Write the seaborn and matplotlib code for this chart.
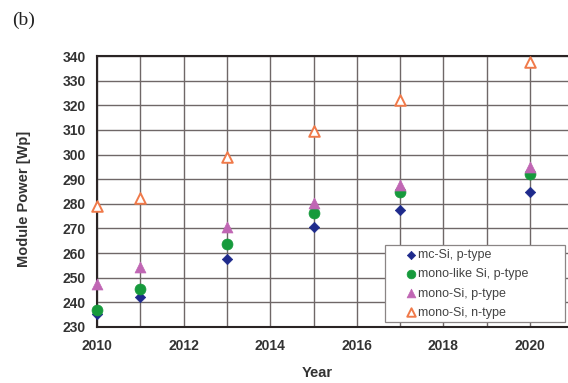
import numpy as np
import pandas as pd
import matplotlib
matplotlib.use("Agg")
import matplotlib.pyplot as plt
from matplotlib.ticker import MultipleLocator
from matplotlib.patches import Rectangle
import seaborn as sns

# Module power roadmap by cell technology
years = [2010, 2011, 2013, 2015, 2017, 2020]
mc_si_p = [235.3, 242, 257.5, 270.4, 277.6, 285]
mono_like_p = [237, 245.5, 263.5, 276.3, 284.7, 292]
mono_si_p = [247.5, 254.5, 270.5, 280.5, 287.5, 294.8]
mono_si_n = [279, 282.5, 299, 309.5, 322, 337.6]

series_names = ["mc-Si, p-type", "mono-like Si, p-type", "mono-Si, p-type", "mono-Si, n-type"]
series_values = [mc_si_p, mono_like_p, mono_si_p, mono_si_n]

df = pd.DataFrame({
    "Year": np.tile(years, len(series_names)),
    "Power": np.concatenate(series_values),
    "Series": np.repeat(series_names, len(years)),
})

sns.set_theme(style="white")
plt.rcParams["font.family"] = ["Liberation Sans", "DejaVu Sans"]

W, H = 568, 383
fig = plt.figure(figsize=(W / 100, H / 100), dpi=100)
ax_left, ax_right, ax_top, ax_bottom = 97, 568, 56, 327
ax = fig.add_axes([ax_left / W, 1 - ax_bottom / H, (ax_right - ax_left) / W, (ax_bottom - ax_top) / H])

styles = {
    "mc-Si, p-type": dict(marker="D", s=28, color="#1e2a8c", edgecolor="#1e2a8c", linewidth=0.5),
    "mono-like Si, p-type": dict(marker="o", s=62, color="#169a3c", edgecolor="#169a3c", linewidth=0.5),
    "mono-Si, p-type": dict(marker="^", s=62, color="#c066b4", edgecolor="#c066b4", linewidth=0.5),
    "mono-Si, n-type": dict(marker="^", s=58, facecolor="white", edgecolor="#f07a4a", linewidth=1.4),
}
for name in series_names:
    sub = df[df["Series"] == name]
    sns.scatterplot(data=sub, x="Year", y="Power", ax=ax, label=name, zorder=5,
                    clip_on=False, **styles[name])

ax.set_xlim(2010, 2010 + (ax_right - ax_left) / 43.3)
ax.set_ylim(230, 340)
ax.xaxis.set_major_locator(MultipleLocator(2))
ax.xaxis.set_minor_locator(MultipleLocator(1))
ax.yaxis.set_major_locator(MultipleLocator(10))

grid_col = "#6f6767"
ax.grid(True, which="major", axis="y", color=grid_col, lw=1.0)
ax.grid(True, which="both", axis="x", color=grid_col, lw=1.0)
ax.set_axisbelow(True)

for side in ["left", "bottom", "top"]:
    ax.spines[side].set_color("#2a2424")
    ax.spines[side].set_linewidth(1.5)
ax.spines["right"].set_visible(False)

ax.tick_params(axis="y", which="major", labelsize=10, labelcolor="#333333",
               length=3, width=1, color="#2a2424", direction="out", pad=5)
ax.tick_params(axis="x", which="major", labelsize=10, labelcolor="#333333",
               length=3, width=1, color="#2a2424", direction="out", pad=6)
ax.tick_params(axis="x", which="minor", length=3, width=1, color="#2a2424", direction="out")
for lbl in ax.get_xticklabels() + ax.get_yticklabels():
    lbl.set_fontweight("bold")

ax.set_xlabel("Year", fontsize=10.5, fontweight="bold", color="#333333")
ax.set_ylabel("Module Power [Wp]", fontsize=10.5, fontweight="bold", color="#333333")
ax.xaxis.set_label_coords((317 - ax_left) / (ax_right - ax_left), -(373 - ax_bottom) / (ax_bottom - ax_top))
ax.xaxis.label.set_va("center")
ax.yaxis.set_label_coords(-(ax_left - 24) / (ax_right - ax_left), (ax_bottom - 199) / (ax_bottom - ax_top))
ax.yaxis.label.set_va("center")

# legend entries without frame; the frame is drawn as its own box
leg = ax.legend(loc="upper left", bbox_to_anchor=(405 / W, 1 - 249 / H),
                bbox_transform=fig.transFigure, frameon=False, markerscale=0.8,
                fontsize=9, labelspacing=0.58, handletextpad=0.05, handlelength=1.0,
                borderpad=0.0, borderaxespad=0)
for t in leg.get_texts():
    t.set_color("#444444")
frame = Rectangle((385 / W, 1 - 322 / H), (565 - 385) / W, (322 - 245) / H,
                  transform=fig.transFigure, facecolor="white", edgecolor="#8a8585",
                  linewidth=0.9, zorder=6)
fig.add_artist(frame)
leg.set_zorder(7)
leg.remove()
fig.add_artist(leg)

fig.text(12 / W, 1 - 20.5 / H, "(b)", fontsize=14, family=["Liberation Serif", "DejaVu Serif"],
         color="#222222", va="center", ha="left")

fig.savefig("out.png", dpi=100)
